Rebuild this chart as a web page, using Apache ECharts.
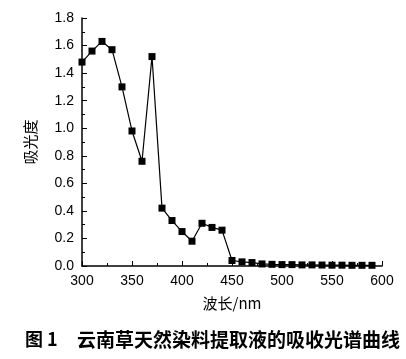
<!DOCTYPE html>
<html><head><meta charset="utf-8">
<script src="https://cdn.jsdelivr.net/npm/echarts@6/dist/echarts.min.js"></script>
<style>html,body{margin:0;padding:0;background:#fff}#c{width:406px;height:359px}</style>
</head><body><div id="c"></div>
<script>
const wavelengths = [300,310,320,330,340,350,360,370,380,390,400,410,420,430,440,450,460,470,480,490,500,510,520,530,540,550,560,570,580,590];
const absorbance = [1.48,1.56,1.63,1.57,1.30,0.98,0.76,1.52,0.42,0.33,0.25,0.18,0.31,0.28,0.26,0.04,0.03,0.025,0.015,0.012,0.01,0.01,0.008,0.008,0.007,0.006,0.006,0.005,0.005,0.005];
const xTicks = [300,350,400,450,500,550,600];
const yTicks = [0,0.2,0.4,0.6,0.8,1.0,1.2,1.4,1.6,1.8];
const xName = '波长/nm';
const yName = '吸光度';
const caption1 = '图 1';
const caption2 = '云南草天然染料提取液的吸收光谱曲线';

const chart = echarts.init(document.getElementById('c'));
const font = 'Liberation Sans, Arial, sans-serif';
chart.setOption({
  animation:false,
  grid:{left:82,right:24,top:18,bottom:93},
  xAxis:{type:'value',min:xTicks[0],max:xTicks[xTicks.length-1],interval:50,
    axisLine:{lineStyle:{color:'#000',width:1.5}},
    axisTick:{inside:true,length:5,lineStyle:{color:'#000'}},
    minorTick:{show:true,splitNumber:2,length:3,lineStyle:{color:'#000'}},
    splitLine:{show:false},
    axisLabel:{color:'#000',fontSize:14,fontFamily:font,margin:8},
    name:xName,nameLocation:'middle',nameGap:30,
    nameTextStyle:{color:'#000',fontSize:15,fontFamily:'Noto Sans CJK SC'}},
  yAxis:{type:'value',min:0,max:1.8,interval:0.2,
    axisLine:{show:true,lineStyle:{color:'#000',width:1.5}},
    axisTick:{show:true,inside:true,length:5,lineStyle:{color:'#000'}},
    minorTick:{show:true,splitNumber:2,length:3,lineStyle:{color:'#000'}},
    splitLine:{show:false},
    axisLabel:{color:'#000',fontSize:14,fontFamily:font,margin:8,formatter:v=>v.toFixed(1)},
    name:yName,nameLocation:'middle',nameGap:44,nameRotate:90,
    nameTextStyle:{color:'#000',fontSize:15,fontFamily:'Noto Sans CJK SC'}},
  series:[{type:'line',data:wavelengths.map((w,i)=>[w,absorbance[i]]),
    symbol:'rect',symbolSize:7,itemStyle:{color:'#000'},lineStyle:{color:'#000',width:1.2}}],
  graphic:[
    {type:'text',left:25,top:330,style:{text:caption1,font:'bold 18px "Noto Sans CJK SC"',fill:'#000'}},
    {type:'text',left:77,top:330,style:{text:caption2,font:'bold 19px "Noto Sans CJK SC"',fill:'#000'}}
  ]
});
</script></body></html>
